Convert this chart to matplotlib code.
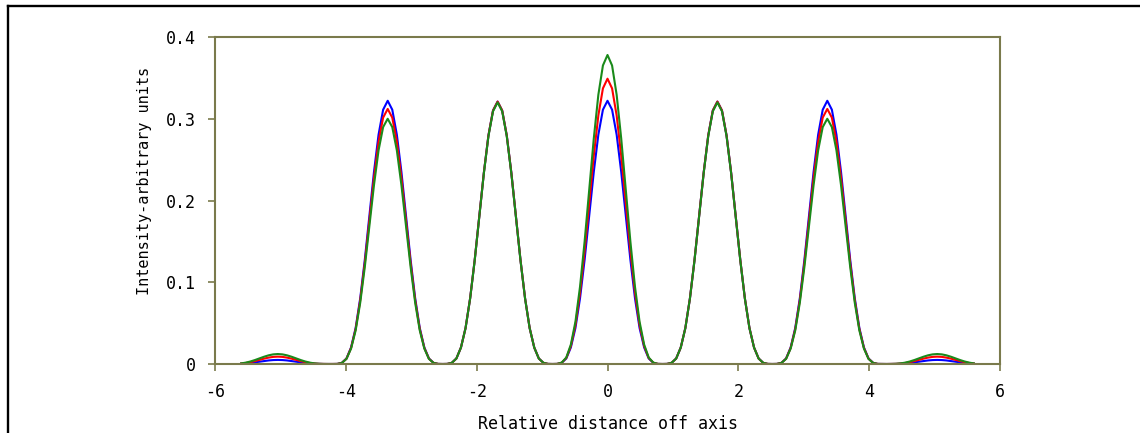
import matplotlib
matplotlib.use('Agg')
import matplotlib.pyplot as plt
from matplotlib.lines import Line2D

plt.rcParams['font.family'] = 'DejaVu Sans Mono'
plt.rcParams['axes.unicode_minus'] = False

# shape of one fringe: fraction of its peak height, read every 0.07 off the centre
peak_profile = [1.0, 0.966, 0.871, 0.729, 0.563, 0.396, 0.25, 0.137,
                0.063, 0.021, 0.0045, 0.0003, 0.0]

# peak heights read at orders 0, +-1, +-2, +-3 (fringes every 1.68)
blue_peaks = [0.322, 0.321, 0.322, 0.005]
red_peaks = [0.349, 0.321, 0.312, 0.009]
green_peaks = [0.378, 0.320, 0.300, 0.0122]

x_step = 0.07
steps_per_order = 24
x_steps = list(range(-80, 81))

x_ticks = [-6, -4, -2, 0, 2, 4, 6]
x_tick_labels = ['-6', '-4', '-2', '0', '2', '4', '6']
y_ticks = [0, 0.1, 0.2, 0.3, 0.4]
y_tick_labels = ['0', '0.1', '0.2', '0.3', '0.4']

olive = '#7a7a4c'


def build_curve(peaks):
    # each sample takes the height of its nearest fringe times the profile
    y = []
    for k in x_steps:
        order = round(k / steps_per_order)
        off = abs(k - order * steps_per_order)
        y.append(peaks[abs(order)] * peak_profile[off])
    return y


x = [k * x_step for k in x_steps]

fig = plt.figure(figsize=(11.4, 4.33), dpi=100)
ax = fig.add_axes([215 / 1140, (433 - 364) / 433, 785 / 1140, 327 / 433])

ax.plot(x, build_curve(blue_peaks), color='#0000ff', lw=1.5)
ax.plot(x, build_curve(red_peaks), color='#ff0000', lw=1.5)
ax.plot(x, build_curve(green_peaks), color='#1a8a1a', lw=1.5)

ax.set_xlim(-6, 6)
ax.set_ylim(0, 0.4)
ax.set_xticks(x_ticks)
ax.set_xticklabels(x_tick_labels)
ax.set_yticks(y_ticks)
ax.set_yticklabels(y_tick_labels)

for sp in ax.spines.values():
    sp.set_color(olive)
    sp.set_linewidth(1.5)
ax.tick_params(direction='out', length=5, width=1.2, color=olive,
               labelsize=12, labelcolor='black', pad=9)
ax.tick_params(top=False, right=False)

ax.set_xlabel('Relative distance off axis', fontsize=12)
ax.xaxis.set_label_coords(0.5, -0.156)
ax.set_ylabel('Intensity-arbitrary units', fontsize=11)
ax.yaxis.set_label_coords(-0.0904, 0.56)
ax.yaxis.label.set_verticalalignment('center')

# outer black frame (top and left edges only)
fy = 1 - 6 / 433
fx = 7.8 / 1140
fig.add_artist(Line2D([fx, 1], [fy, fy], transform=fig.transFigure,
                      color='black', lw=1.7, solid_capstyle='projecting'))
fig.add_artist(Line2D([fx, fx], [0, fy], transform=fig.transFigure,
                      color='black', lw=1.7, solid_capstyle='projecting'))

fig.savefig('out.png', dpi=100)
